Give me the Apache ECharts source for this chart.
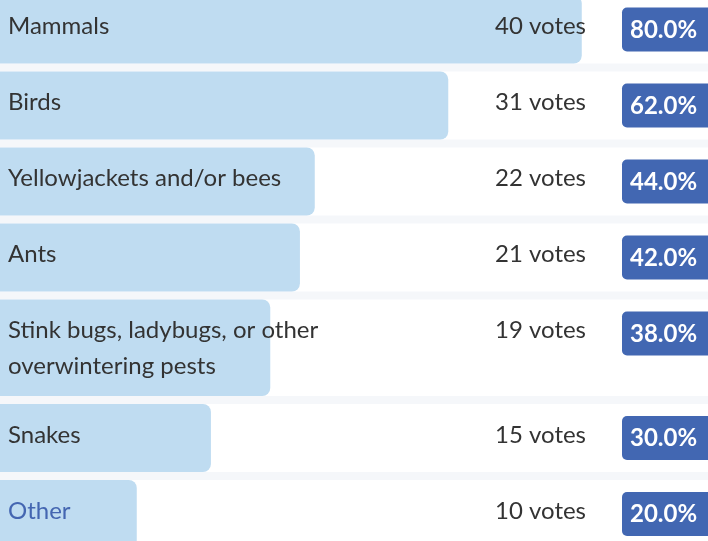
<!DOCTYPE html>
<html><head><meta charset="utf-8">
<script src="https://cdn.jsdelivr.net/npm/echarts@6/dist/echarts.min.js"></script>
<style>html,body{margin:0;padding:0;background:#f5f7fa;}#c{width:708px;height:541px;}</style>
</head><body><div id="c"></div>
<script>
const categories = ["Mammals", "Birds", "Yellowjackets and/or bees", "Ants", "Stink bugs, ladybugs, or other\noverwintering pests", "Snakes", "Other"];
const votes = [40, 31, 22, 21, 19, 15, 10];
const totalVotes = 50;

// layout (px-units on the y value axis)
const BASE_H = 68, EXTRA_LINE = 28.5, GAP = 8;
const rows = [];
let acc = 0;
categories.forEach((c, i) => {
  const lines = c.split('\n').length;
  const h = BASE_H + (lines - 1) * EXTRA_LINE;
  rows.push({ top: acc, h: h });
  acc += h + GAP;
});

const chart = echarts.init(document.getElementById('c'), null, { renderer: 'canvas' });
const data = votes.map((v, i) => [v / totalVotes * 100, i]);

chart.setOption({
  backgroundColor: '#f5f7fa',
  animation: false,
  grid: { left: 0, right: 0, top: 0, bottom: 0 },
  xAxis: { type: 'value', min: 1.56, max: 97.02, show: false },
  yAxis: { type: 'value', min: 4.5, max: 545.5, inverse: true, show: false },
  series: [{
    type: 'custom',
    clip: false,
    data: data,
    renderItem: function (params, api) {
      const i = params.dataIndex;
      const pct = api.value(0);
      const r = rows[i];
      const p0 = api.coord([0, r.top]);
      const p1 = api.coord([pct, r.top + r.h]);
      const top = p0[1];
      const h = p1[1] - p0[1];
      const isOther = categories[i] === 'Other';
      return {
        type: 'group',
        children: [
          { type: 'rect', shape: { x: 0, y: top, width: 708, height: h }, style: { fill: '#ffffff' } },
          { type: 'rect', shape: { x: p0[0], y: top, width: p1[0] - p0[0], height: h, r: 8 }, style: { fill: '#bfdcf1' } },
          { type: 'text', x: 8, y: top + 13, style: {
              text: categories[i], fill: isOther ? '#4466b1' : '#333333',
              font: '24px Lato', lineHeight: 36, verticalAlign: 'top', align: 'left' } },
          { type: 'text', x: 586, y: top + 31, style: {
              text: votes[i] + ' votes', fill: '#333333', font: '24px Lato',
              verticalAlign: 'middle', align: 'right' } },
          { type: 'rect', shape: { x: 622, y: top + 12, width: 96, height: 44, r: 5 }, style: { fill: '#4267b2' } },
          { type: 'text', x: 630, y: top + 34.5, style: {
              text: pct.toFixed(1) + '%', fill: '#ffffff', font: 'bold 24px Lato',
              verticalAlign: 'middle', align: 'left' } }
        ]
      };
    }
  }]
});
</script></body></html>
